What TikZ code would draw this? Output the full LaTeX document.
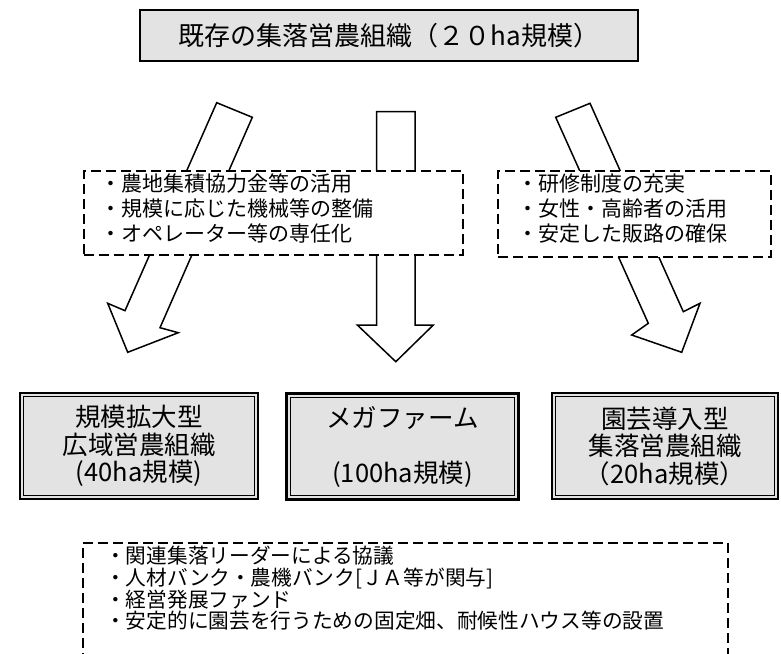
\documentclass[tikz,border=0pt]{standalone}
\usepackage{fontspec}
\setmainfont{Noto Sans CJK JP}
\begin{document}
\begin{tikzpicture}[x=1pt,y=-1pt,
  topbox/.style={draw, line width=1.2pt, fill=black!11, minimum width=498, minimum height=51, inner sep=0pt, font=\fontsize{26}{28}\selectfont},
  dashbox/.style={draw, dash pattern=on 10pt off 5pt, line width=1.7pt, fill=white, inner sep=0pt, anchor=north west},
  listtext/.style={anchor=north west, inner sep=0pt, align=left, font=\fontsize{21}{25}\selectfont},
  bottomtext/.style={anchor=north west, inner sep=0pt, align=left, font=\fontsize{20.7}{21.7}\selectfont},
  farm/.style={draw, line width=2.4pt, fill=black!11, inner sep=0pt, align=center, minimum height=106, font=\fontsize{25.5}{27.5}\selectfont},
  farminner/.style={draw, line width=1.1pt},
  blockarrow/.style={draw, line width=1.5pt, fill=white, line join=miter}
]
\clip (0,0) rectangle (781,653);
\fill[white] (0,0) rectangle (781,653);

% top box
\node[topbox] (top) at (389,35.5) {既存の集落営農組織（２０ha規模）};

% block arrows
\draw[blockarrow] (216.7,102.7) -- (252.3,117.3) -- (160,327.7) -- (178.3,332.7)
  -- (127.7,352.3) -- (107.7,303.3) -- (125,310.7) -- cycle;
\draw[blockarrow] (376.7,111.7) -- (415,111.7) -- (415,325) -- (433.3,325)
  -- (395.8,361.7) -- (357.3,325) -- (376.7,325) -- cycle;
\draw[blockarrow] (555.7,117.3) -- (590,103.3) -- (683.3,311.7) -- (700,303.3)
  -- (681.7,352.3) -- (631.7,335) -- (648.3,323.3) -- cycle;

% dashed boxes over the arrows
\node[dashbox, minimum width=379, minimum height=84] (lbox) at (83,170) {};
\node[listtext] (ltext) at (100,174) {・農地集積協力金等の活用\\・規模に応じた機械等の整備\\・オペレーター等の専任化};
\node[dashbox, minimum width=273, minimum height=86] (rbox) at (497,170) {};
\node[listtext] (rtext) at (517,174) {・研修制度の充実\\・女性・高齢者の活用\\・安定した販路の確保};

% bottom farm boxes
\node[farm, minimum width=238] (f1) at (139,446) {規模拡大型\\広域営農組織\\(40ha規模)};
\node[farm, minimum width=232] (f2) at (402.5,446.5) {メガファーム\\[27.5pt](100ha規模)};
\node[farm, minimum width=226] (f3) at (665,446) {園芸導入型\\集落営農組織\\（20ha規模）};
\foreach \n in {f1,f2,f3}{
  \draw[farminner] ([shift={(5pt,-5pt)}]\n.north west) rectangle ([shift={(-5pt,5pt)}]\n.south east);
}

% bottom dashed box (cut off at the lower edge)
\node[dashbox, minimum width=645, minimum height=130] (bbox) at (82,542) {};
\node[bottomtext] (btext) at (105,546) {・関連集落リーダーによる協議\\・人材バンク・農機バンク[ＪＡ等が関与]\\・経営発展ファンド\\・安定的に園芸を行うための固定畑、耐候性ハウス等の設置};
\end{tikzpicture}
\end{document}
